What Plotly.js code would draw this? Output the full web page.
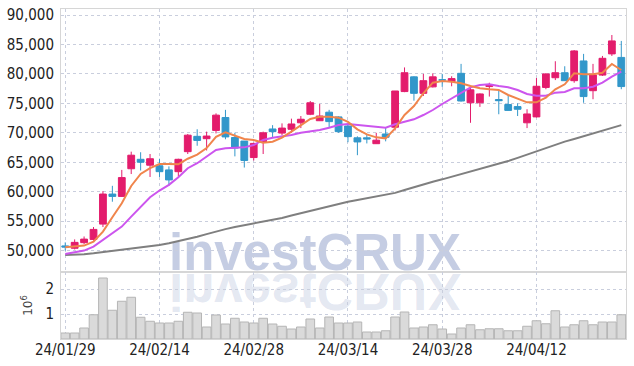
<!DOCTYPE html>
<html>
<head>
<meta charset="utf-8">
<script src="https://cdn.plot.ly/plotly-3.0.1.min.js"></script>
<style>
html,body{margin:0;padding:0;background:#fff;}
#chart{width:634px;height:366px;}
</style>
</head>
<body>
<div id="chart"></div>
<script>
const dates = ['24/01/29','24/01/30','24/01/31','24/02/01','24/02/02','24/02/05','24/02/06','24/02/07','24/02/08','24/02/13',
 '24/02/14','24/02/15','24/02/16','24/02/19','24/02/20','24/02/21','24/02/22','24/02/23','24/02/26','24/02/27',
 '24/02/28','24/02/29','24/03/04','24/03/05','24/03/06','24/03/07','24/03/08','24/03/11','24/03/12','24/03/13',
 '24/03/14','24/03/15','24/03/18','24/03/19','24/03/20','24/03/21','24/03/22','24/03/25','24/03/26','24/03/27',
 '24/03/28','24/03/29','24/04/01','24/04/02','24/04/03','24/04/04','24/04/05','24/04/08','24/04/09','24/04/11',
 '24/04/12','24/04/15','24/04/16','24/04/17','24/04/18','24/04/19','24/04/22','24/04/23','24/04/24','24/04/25'];

const openP = [50800,50400,51350,51900,54500,59600,59200,63900,65500,64500,
 64400,63700,63400,66800,69400,69000,70400,72600,69200,68600,
 65800,68500,70650,69950,70600,71700,73150,72050,73500,72700,
 71150,69150,69150,68150,69800,70950,77000,79500,76700,77800,
 79000,78700,80100,75100,75100,77850,75650,74800,74450,71700,
 72700,77700,79350,80200,78850,82200,77150,79800,83400,82800];
const highP = [51400,51900,52400,54000,60100,61000,63700,66800,66700,66400,
 65600,64300,65600,69800,70600,70200,73300,73900,70000,68600,
 68300,70200,71300,71600,72400,72850,75400,74900,73900,72800,
 71300,69400,69800,70000,70900,77100,81100,79600,80000,80100,
 80000,79600,81700,77700,76700,78500,77150,76400,75000,74000,
 79300,80100,82150,81300,84050,83400,81700,83050,86600,85600];
const lowP = [50000,50200,51100,51700,54000,58300,59100,63000,63600,62500,
 62500,61000,62600,66400,67800,67000,69900,68900,66000,64100,
 65300,66400,69200,69600,70000,70800,73000,72000,70900,70000,
 68400,66200,68200,68100,68550,70400,76900,75450,76250,77700,
 77800,77900,75300,71700,74400,76150,73150,73750,72850,70800,
 72600,77400,78950,78800,78500,75100,75700,79650,83050,77400];
const closeP = [50600,51400,51950,53600,59600,59200,62400,66200,65000,65600,
 63400,62000,65500,69600,68700,69450,73000,69300,67400,65300,
 68200,70000,70200,70800,71500,72300,75100,72850,71900,70200,
 69350,68450,68950,68750,69250,77100,80200,76700,78850,79500,
 78950,79200,75400,77300,76600,78100,75450,73800,74000,73200,
 77900,80000,80200,78850,83900,76150,79800,82650,85600,77850];

const ma5 = [50580,50680,50850,51530,53230,55670,58050,60980,63020,63990,
 64700,64700,64650,65600,66300,67400,69300,70070,69450,68940,
 68770,68320,68490,69170,70190,71330,72350,72740,72740,72570,
 71850,70590,69740,69230,69060,70760,73020,74550,76710,78510,
 78790,78680,78400,77950,77550,77380,77270,76420,75740,75170,
 75170,75960,77380,78230,80100,79940,79940,80200,81680,80660];
const ma20 = [49440,49660,50000,50680,51820,52840,54080,55780,57480,59070,
 60200,61160,62460,63990,64840,65900,67080,67360,67470,67530,
 67930,68780,69170,69340,69630,70020,70190,70480,70870,71330,
 71500,71330,71220,71050,70870,71440,71880,72290,73020,73870,
 74890,75850,76820,77720,78110,78230,77950,77720,77270,76590,
 76300,76300,76820,76930,77550,77550,77830,78510,79530,80380];
const ma60 = [49250,49300,49400,49550,49750,49950,50150,50350,50500,50700,
 50950,51250,51600,51950,52350,52800,53250,53650,54000,54300,
 54600,54900,55200,55550,55950,56350,56800,57150,57550,57950,
 58300,58600,58900,59200,59500,59800,60300,60800,61250,61700,
 62100,62550,62950,63400,63850,64300,64700,65200,65750,66300,
 66900,67500,68000,68500,68950,69400,69850,70300,70800,71300];
const volume = [240000,240000,440000,970000,2440000,1150000,1510000,1670000,870000,710000,
 640000,640000,710000,1070000,1040000,480000,960000,600000,830000,680000,
 640000,830000,600000,510000,400000,480000,800000,440000,880000,640000,
 640000,680000,280000,280000,330000,880000,1080000,440000,480000,570000,
 400000,200000,440000,570000,370000,410000,410000,330000,330000,510000,
 730000,610000,1130000,480000,570000,730000,570000,680000,680000,970000];

const priceTicks = [50000,55000,60000,65000,70000,75000,80000,85000,90000];
const volTickVals = [1000000,2000000];
const volTickText = ['1','2'];
const dateTicks = [dates[0],dates[10],dates[20],dates[30],dates[40],dates[50]];

const UP = '#e31c6c', DOWN = '#3297ca';
const tickFont = {family:'Liberation Sans Narrow, DejaVu Sans Condensed, sans-serif', size:15, color:'#222'};
const gridC = '#c9cedd';
const lineC = '#d6d6d6';

const data = [
  {type:'bar', x:dates, y:volume, xaxis:'x2', yaxis:'y2',
   marker:{color:'#dadada', line:{color:'#b5b5b5', width:1}}, hoverinfo:'skip'},
  {type:'candlestick', x:dates, open:openP, high:highP, low:lowP, close:closeP,
   xaxis:'x', yaxis:'y', whiskerwidth:0,
   increasing:{line:{color:UP, width:1}, fillcolor:UP},
   decreasing:{line:{color:DOWN, width:1}, fillcolor:DOWN}, hoverinfo:'skip'},
  {type:'scatter', mode:'lines', x:dates, y:ma60, xaxis:'x', yaxis:'y',
   line:{color:'#7f7f7f', width:2}, hoverinfo:'skip'},
  {type:'scatter', mode:'lines', x:dates, y:ma20, xaxis:'x', yaxis:'y',
   line:{color:'#cc55ee', width:2}, hoverinfo:'skip'},
  {type:'scatter', mode:'lines', x:dates, y:ma5, xaxis:'x', yaxis:'y',
   line:{color:'#f0854c', width:2}, hoverinfo:'skip'}
];

const xCommon = {type:'category', range:[-0.45, 59.5], tickvals:dateTicks, ticktext:dateTicks,
  showgrid:true, gridcolor:gridC, griddash:'dot', gridwidth:1,
  showline:true, mirror:true, linecolor:lineC, linewidth:1, zeroline:false,
  ticks:'', tickfont:tickFont, fixedrange:true};

const layout = {
  width:634, height:366,
  margin:{l:61, r:8, t:9, b:27},
  paper_bgcolor:'#fff', plot_bgcolor:'rgba(0,0,0,0)',
  showlegend:false, bargap:0.08, boxgap:0.28, boxgroupgap:0,
  xaxis:Object.assign({}, xCommon, {anchor:'y', showticklabels:false, rangeslider:{visible:false}}),
  xaxis2:Object.assign({}, xCommon, {anchor:'y2', matches:'x', showticklabels:true, ticklabelstandoff:-3}),
  yaxis:{domain:[0.203,1], range:[46367,91019], tickvals:priceTicks, tickformat:',d',
    showgrid:true, gridcolor:gridC, griddash:'dot', showline:true, mirror:true, linecolor:lineC,
    zeroline:false, ticks:'outside', ticklen:3, tickcolor:'rgba(0,0,0,0)', tickfont:tickFont, fixedrange:true},
  yaxis2:{domain:[0,0.203], range:[0,2680000], tickvals:volTickVals, ticktext:volTickText,
    showgrid:true, gridcolor:gridC, griddash:'dot', showline:true, mirror:true, linecolor:lineC,
    zeroline:false, ticks:'outside', ticklen:3, tickcolor:'rgba(0,0,0,0)', tickfont:tickFont, fixedrange:true,
    title:{text:'10<sup>6</sup>', font:{family:'DejaVu Sans, sans-serif', size:12, color:'#444'}, standoff:10}},
  annotations:[
    {text:'investCRUX', xref:'paper', yref:'paper', x:0.4496, y:0.17, xanchor:'center', yanchor:'bottom',
     showarrow:false, font:{family:'Liberation Sans, Arial, sans-serif', size:51, color:'rgba(140,155,200,0.5)', weight:700}},
    {text:'investCRUX', xref:'paper', yref:'paper', x:0.4496, y:0.236, xanchor:'center', yanchor:'top',
     showarrow:false, font:{family:'Liberation Sans, Arial, sans-serif', size:51, color:'rgba(140,155,200,0.24)', weight:700}}
  ]
};

Plotly.newPlot('chart', data, layout, {staticPlot:true, displayModeBar:false}).then(function(gd){
  const anns = gd.querySelectorAll('.annotation');
  if (anns.length > 1) {
    const t = anns[1].querySelector('text');
    if (t) {
      t.style.transformBox = 'fill-box';
      t.style.transformOrigin = '50% 50%';
      t.style.transform = 'scaleY(-1)';
    }
  }
  const below = gd.querySelector('.layer-below');
  if (below) { anns.forEach(function(a){ below.appendChild(a); }); }
});
</script>
</body>
</html>
